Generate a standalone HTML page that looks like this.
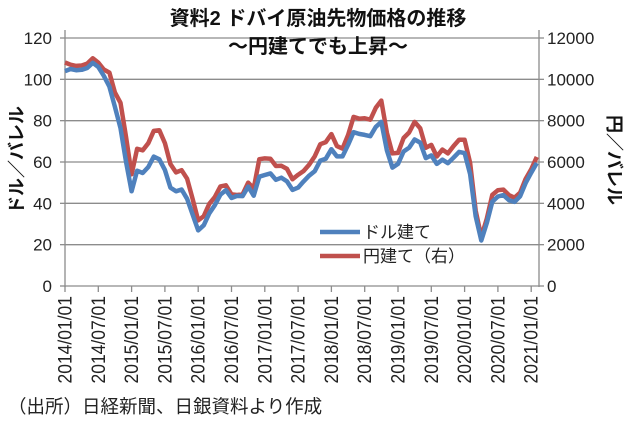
<!DOCTYPE html>
<html><head><meta charset="utf-8"><style>
html,body{margin:0;padding:0;background:#fff;}
svg{display:block;font-family:"Liberation Sans","Noto Sans CJK JP",sans-serif;}
</style></head><body>
<svg id="c" width="630" height="426" viewBox="0 0 630 426" xmlns="http://www.w3.org/2000/svg">
<rect width="630" height="426" fill="#fff"/>
<g id="grid" stroke="#8c8c8c" stroke-width="1.3"></g>
<line x1="65" y1="30" x2="65" y2="287" stroke="#8c8c8c" stroke-width="1.3"/>
<line x1="539" y1="30" x2="539" y2="287" stroke="#8c8c8c" stroke-width="1.3"/>
<g id="ticks" stroke="#8c8c8c" stroke-width="1.3"></g>
<g id="lbl" font-size="17" fill="#222"></g>
<polyline id="red" fill="none" stroke="#c0504d" stroke-width="4.5" stroke-linejoin="round"/>
<polyline id="blue" fill="none" stroke="#4f81bd" stroke-width="4.5" stroke-linejoin="round"/>
<text x="318" y="25" text-anchor="middle" font-size="20" font-weight="bold" fill="#111">資料2  ドバイ原油先物価格の推移</text>
<text x="318" y="53" text-anchor="middle" font-size="20" font-weight="bold" fill="#111">～円建てでも上昇～</text>
<line x1="320" y1="232" x2="360" y2="232" stroke="#4f81bd" stroke-width="4.5"/>
<text x="363" y="238" font-size="17" fill="#222">ドル建て</text>
<line x1="320" y1="256" x2="360" y2="256" stroke="#c0504d" stroke-width="4.5"/>
<text x="363" y="262" font-size="17" fill="#222">円建て（右）</text>
<text transform="translate(23,160) rotate(-90)" text-anchor="middle" font-size="18" font-weight="bold" fill="#111">ドル／バレル</text>
<text transform="translate(608,160) rotate(90)" text-anchor="middle" font-size="18" font-weight="bold" fill="#111">円／バレル</text>
<text x="8" y="413" font-size="18.5" fill="#222">（出所）日経新聞、日銀資料より作成</text>
</svg>
<script>
var ns="http://www.w3.org/2000/svg";
function el(p,t,a,txt){var e=document.createElementNS(ns,t);for(var k in a)e.setAttribute(k,a[k]);if(txt!=null)e.textContent=txt;document.getElementById(p).appendChild(e);}
function Y(v){return 286-v*248/120;}
for(var i=0;i<=6;i++){var y=Y(i*20);
 el("grid","line",{x1:65,x2:539,y1:y,y2:y});
 el("ticks","line",{x1:60,x2:65,y1:y,y2:y});
 el("ticks","line",{x1:539,x2:544,y1:y,y2:y});
 el("lbl","text",{x:52,y:y+6,"text-anchor":"end"},String(i*20));
 el("lbl","text",{x:547,y:y+6},String(i*2000));
}
var dates=["2014/01/01","2014/07/01","2015/01/01","2015/07/01","2016/01/01","2016/07/01","2017/01/01","2017/07/01","2018/01/01","2018/07/01","2019/01/01","2019/07/01","2020/01/01","2020/07/01","2021/01/01"];
for(var j=0;j<15;j++){var x=65+j*33.3;
 el("ticks","line",{x1:x,x2:x,y1:286,y2:292});
 el("lbl","text",{transform:"translate("+(x+6.5)+",296) rotate(-90) scale(1,1.1)","text-anchor":"end","font-size":"17.5"},dates[j]);
}
var d=[104,105,104.4,104.6,105.5,108,106,101.7,96.5,86.7,76.4,60.2,
45.8,55.8,54.7,57.6,62.6,61.3,56.2,47.6,45.8,46.7,42.2,34.6,
26.9,29.4,35.2,39.1,44.2,46.4,42.6,43.6,43.5,48.1,43.7,52.9,
53.7,54.5,51.4,52.4,50.6,46.5,47.6,50.6,53.4,55.6,60.7,61.6,
66.2,62.7,62.7,68.3,74.4,73.6,73.1,72.5,77,79.4,65.6,57.3,
59.1,65.1,66.9,70.9,69.4,61.9,63.2,59.1,61.1,59.4,62.1,64.9,
64.3,54.2,33.7,22,30.5,40.8,43.3,44,41.5,40.7,43.4,49.8,54.8,59.5];
var fx=[104,102,102,102,102,102,102,103,107,108,116,120,
118,119,120,120,120,123,123,124,120,120,123,122,
118,115,113,110,109,105,104,101,102,104,108,116,
115,113,113,111,112,111,113,110,110,113,113,113,
111,108,106,107,110,110,111,111,112,113,113,112,
109,110,111,112,110,108,108,106,108,108,109,109,
110,110,108,108,107,108,107,106,106,105,104,104,103,105];
var b=[],r=[];
for(var m=0;m<d.length;m++){var x=65+m*5.55;
 b.push(x.toFixed(1)+","+Y(d[m]).toFixed(1));
 r.push(x.toFixed(1)+","+Y(d[m]*fx[m]/100).toFixed(1));}
document.getElementById("blue").setAttribute("points",b.join(" "));
document.getElementById("red").setAttribute("points",r.join(" "));
</script>
</body></html>
